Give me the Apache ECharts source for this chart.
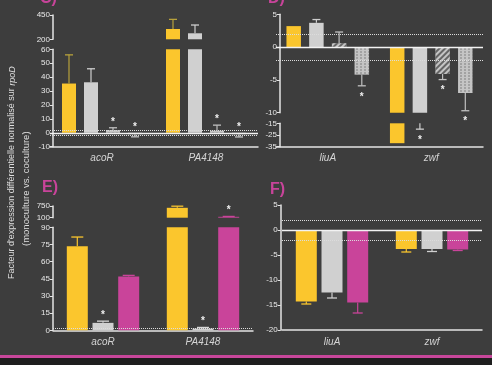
<!DOCTYPE html>
<html><head><meta charset="utf-8">
<script src="https://cdn.jsdelivr.net/npm/echarts@6/dist/echarts.min.js"></script>
<style>html,body{margin:0;padding:0;background:#3d3d3d;}#c{width:492px;height:365px;}</style>
</head><body><div id="c"></div><script>
// ---------- DATA ----------
const catsC = ['acoR', 'PA4148'];
const catsD = ['liuA', 'zwf'];
const catsE = ['acoR', 'PA4148'];
const catsF = ['liuA', 'zwf'];

// Panel C (4 conditions)
const cYellow = [35.4, 306];   const cYellowErr = [56, 405];
const cGray   = [36.3, 262];   const cGrayErr   = [46, 347];
const cHatch  = [2, 1.5];      const cHatchErr  = [3.6, 5.5];
const cDot    = [-1, -1];      const cDotErr    = [-2.9, -3];
const cHatchStars = [1, 1];    const cDotStars  = [1, 1];

// Panel D
const dYellow = [3.2, -32];    const dYellowErr = [null, null];
const dGray   = [3.7, -13];    const dGrayErr   = [4.2, -20];
const dHatch  = [0.6, -4.1];   const dHatchErr  = [2.3, -4.95];
const dDot    = [-4.2, -7.0];  const dDotErr    = [-5.9, -9.7];
const dGrayStars = [0, 1]; const dHatchStars = [0, 1]; const dDotStars = [1, 1];

// Panel E (3 conditions)
const eYellow = [73.5, 650];   const eYellowErr = [81.5, 740];
const eGray   = [6.5, 1.5];    const eGrayErr   = [8, 2.5];
const ePink   = [47, 150];     const ePinkErr   = [48, 170];
const eGrayStars = [1, 1];     const ePinkStars = [0, 1];

// Panel F
const fYellow = [-14.3, -3.8]; const fYellowErr = [-14.8, -4.4];
const fGray   = [-12.5, -3.8]; const fGrayErr   = [-13.6, -4.3];
const fPink   = [-14.5, -3.9]; const fPinkErr   = [-16.6, -4.1];

// tick labels for broken segments
const cHighTicks = [200, 450];
const dLowTicks  = [-35, -25, -15];
const eHighTicks = [100, 750];

// ---------- STYLE ----------
const AX = '#e4e4e4';
const YEL = '#fbc62d', GRY = '#d0d0d0', PNK = '#c9449a', PAT = '#c4c4c4';
const FONT = 'Liberation Sans, Arial, sans-serif';
const hatchDecal = {symbol: 'rect', symbolSize: 1, dashArrayX: [1, 0], dashArrayY: [1.5, 2], rotation: -Math.PI / 4, color: 'rgba(70,70,70,0.75)'};
const dotDecal = {symbol: 'circle', symbolSize: 0.8, dashArrayX: [[2, 2]], dashArrayY: [2, 1], rotation: 0, color: 'rgba(90,90,90,0.7)'};

const option = {backgroundColor: '#3d3d3d', animation: false, grid: [], xAxis: [], yAxis: [], series: [], graphic: []};

function addGrid(g) {
  const gi = option.grid.length;
  option.grid.push({left: g.left, top: g.top, width: g.width, height: g.height});
  option.xAxis.push({
    type: 'category', gridIndex: gi, data: g.cats, show: g.showX,
    axisLine: {onZero: false, lineStyle: {color: AX, width: 1.5}},
    axisTick: {alignWithLabel: true, length: 3, lineStyle: {color: AX}},
    axisLabel: {fontSize: 10, fontStyle: 'italic', color: '#d4d4d4', margin: g.xMargin || 7, fontFamily: FONT}
  });
  const ya = {
    type: 'value', gridIndex: gi, min: g.min, max: g.max, offset: g.yOffset || 0,
    splitLine: {show: false},
    axisLine: {show: true, lineStyle: {color: AX, width: 1.5}},
    axisTick: {show: true, length: 3, lineStyle: {color: AX}},
    axisLabel: {fontSize: 8, color: '#e8e8e8', margin: 3, fontFamily: FONT}
  };
  if (g.custom) { ya.axisLabel.customValues = g.custom; ya.axisTick.customValues = g.custom; }
  else ya.interval = g.interval;
  option.yAxis.push(ya);
  const n = g.bars.length;
  const gapPct = (g.gapPx / g.barWidth * 100) + '%';
  g.bars.forEach((b, idx) => {
    const s = {
      type: 'bar', xAxisIndex: gi, yAxisIndex: gi, data: b.vals, barWidth: g.barWidth, barGap: gapPct,
      clip: true, silent: true,
      itemStyle: {color: b.color, decal: b.decal || null}
    };
    if (idx === 0 && g.lines) {
      const ml = [];
      if (g.lines.zero) ml.push({yAxis: 0, lineStyle: {type: 'solid', color: '#f2f2f2', width: 1.3}});
      (g.lines.dotted || []).forEach(v => ml.push({yAxis: v, lineStyle: {type: 'dotted', color: '#dcdcdc', width: 1}}));
      s.markLine = {symbol: 'none', silent: true, label: {show: false}, data: ml};
    }
    option.series.push(s);
    const off = (idx - (n - 1) / 2) * (g.barWidth + g.gapPx);
    const data = b.vals.map((v, i) => [i, v, (b.errs && b.errs[i] != null) ? b.errs[i] : v, b.stars ? b.stars[i] : 0]);
    option.series.push({
      type: 'custom', xAxisIndex: gi, yAxisIndex: gi, data: data, z: 5, silent: true,
      encode: {x: 0, y: 1},
      renderItem: function (params, api) {
        const c = api.value(0), m = api.value(1), e = api.value(2), st = api.value(3);
        const cl = v => Math.max(g.min, Math.min(g.max, v));
        const ch = [];
        const cx = api.coord([c, 0])[0] + off;
        const m2 = cl(m), e2 = cl(e);
        if (m2 !== e2) {
          const y1 = api.coord([c, m2])[1], y2 = api.coord([c, e2])[1];
          ch.push({type: 'line', shape: {x1: cx, y1: y1, x2: cx, y2: y2}, style: {stroke: b.errColor, lineWidth: 1.2}});
          if (e === e2) ch.push({type: 'line', shape: {x1: cx - g.cap / 2, y1: y2, x2: cx + g.cap / 2, y2: y2}, style: {stroke: b.errColor, lineWidth: 1.3}});
        }
        if (st) {
          const up = m >= 0 || g.starUp;
          const a = up ? Math.max(m, e, 0) : Math.min(m, e, 0);
          if (a >= g.min && a <= g.max) {
            const y = api.coord([c, a])[1] + (up ? -8 : 9);
            ch.push({type: 'text', style: {text: '*', x: cx, y: y + 2, fill: '#f0f0f0', font: 'bold 10px ' + FONT, align: 'center', verticalAlign: 'middle'}});
          }
        }
        return {type: 'group', children: ch};
      }
    });
  });
}

// Panel C
const barsC = [
  {vals: cYellow, errs: cYellowErr, color: YEL, errColor: '#b8a23c'},
  {vals: cGray, errs: cGrayErr, color: GRY, errColor: '#cfcfcf'},
  {vals: cHatch, errs: cHatchErr, color: PAT, errColor: '#c0c0c0', decal: dotDecal, stars: cHatchStars},
  {vals: cDot, errs: cDotErr, color: PAT, errColor: '#c0c0c0', decal: dotDecal, stars: cDotStars}
];
addGrid({left: 50, width: 208, top: 15, height: 24.3, min: 200, max: 450, custom: cHighTicks, cats: catsC, showX: false, yOffset: -3, bars: barsC, barWidth: 14, gapPx: 8, cap: 8, starUp: true});
addGrid({left: 50, width: 208, top: 49.3, height: 97.4, min: -10, max: 60, interval: 10, cats: catsC, showX: true, yOffset: -3, bars: barsC, barWidth: 14, gapPx: 8, cap: 8, starUp: true, lines: {zero: true, dotted: [2, -2]}});

// Panel D
const barsD = [
  {vals: dYellow, errs: dYellowErr, color: YEL, errColor: YEL},
  {vals: dGray, errs: dGrayErr, color: GRY, errColor: '#cfcfcf', stars: dGrayStars},
  {vals: dHatch, errs: dHatchErr, color: PAT, errColor: '#c0c0c0', decal: hatchDecal, stars: dHatchStars},
  {vals: dDot, errs: dDotErr, color: PAT, errColor: '#c0c0c0', decal: dotDecal, stars: dDotStars}
];
addGrid({left: 276, width: 207, top: 14.3, height: 98.4, min: -10, max: 5, interval: 5, cats: catsD, showX: false, yOffset: -4, bars: barsD, barWidth: 14.5, gapPx: 8.2, cap: 8, lines: {zero: true, dotted: [2, -2]}});
addGrid({left: 276, width: 207, top: 123.3, height: 23.4, min: -35, max: -15, custom: dLowTicks, cats: catsD, showX: true, yOffset: -4, bars: barsD, barWidth: 14.5, gapPx: 8.2, cap: 8});

// Panel E
const barsE = [
  {vals: eYellow, errs: eYellowErr, color: YEL, errColor: YEL},
  {vals: eGray, errs: eGrayErr, color: GRY, errColor: '#d8d8d8', stars: eGrayStars},
  {vals: ePink, errs: ePinkErr, color: PNK, errColor: PNK, stars: ePinkStars}
];
addGrid({left: 53, width: 200, top: 206, height: 11.7, min: 100, max: 750, custom: eHighTicks, cats: catsE, showX: false, bars: barsE, barWidth: 21, gapPx: 4.7, cap: 12});
addGrid({left: 53, width: 200, top: 227.3, height: 103, min: 0, max: 90, interval: 15, cats: catsE, showX: true, bars: barsE, barWidth: 21, gapPx: 4.7, cap: 12, lines: {dotted: [2]}});

// Panel F
const barsF = [
  {vals: fYellow, errs: fYellowErr, color: YEL, errColor: YEL},
  {vals: fGray, errs: fGrayErr, color: GRY, errColor: '#d0d0d0'},
  {vals: fPink, errs: fPinkErr, color: PNK, errColor: PNK}
];
addGrid({left: 282, width: 200, top: 205, height: 125, min: -20, max: 5, interval: 5, cats: catsF, showX: true, yOffset: 1.3, bars: barsF, barWidth: 21, gapPx: 4.7, cap: 10, lines: {zero: true, dotted: [2, -2]}});

// ---------- GRAPHIC ----------
const LBL = '#c8449a';
option.graphic = [
  {type: 'text', left: 40, top: -9, style: {text: 'C)', fill: LBL, font: 'bold 16px ' + FONT}},
  {type: 'text', left: 268, top: -9, style: {text: 'D)', fill: LBL, font: 'bold 16px ' + FONT}},
  {type: 'text', left: 42, top: 180, style: {text: 'E)', fill: LBL, font: 'bold 16px ' + FONT}},
  {type: 'text', left: 270, top: 182, style: {text: 'F)', fill: LBL, font: 'bold 16px ' + FONT}},
  {type: 'text', x: 12, y: 279, rotation: Math.PI / 2,
    style: {text: "Facteur d'expression différentielle normalisé sur {i|rpoD}", fill: '#dedede', font: '9px ' + FONT, align: 'left', verticalAlign: 'middle',
      rich: {i: {fontStyle: 'italic', fontSize: 9, fill: '#dedede', fontFamily: FONT}}}},
  {type: 'text', x: 26, y: 246, rotation: Math.PI / 2,
    style: {text: '(monoculture vs. coculture)', fill: '#dedede', font: '9.5px ' + FONT, align: 'left', verticalAlign: 'middle'}},
  {type: 'rect', shape: {x: 0, y: 355, width: 492, height: 3}, style: {fill: '#c8479b'}},
  {type: 'rect', shape: {x: 0, y: 358, width: 492, height: 7}, style: {fill: '#1e1e1e'}}
];

const chart = echarts.init(document.getElementById('c'), null, {renderer: 'canvas'});
chart.setOption(option);
</script></body></html>
